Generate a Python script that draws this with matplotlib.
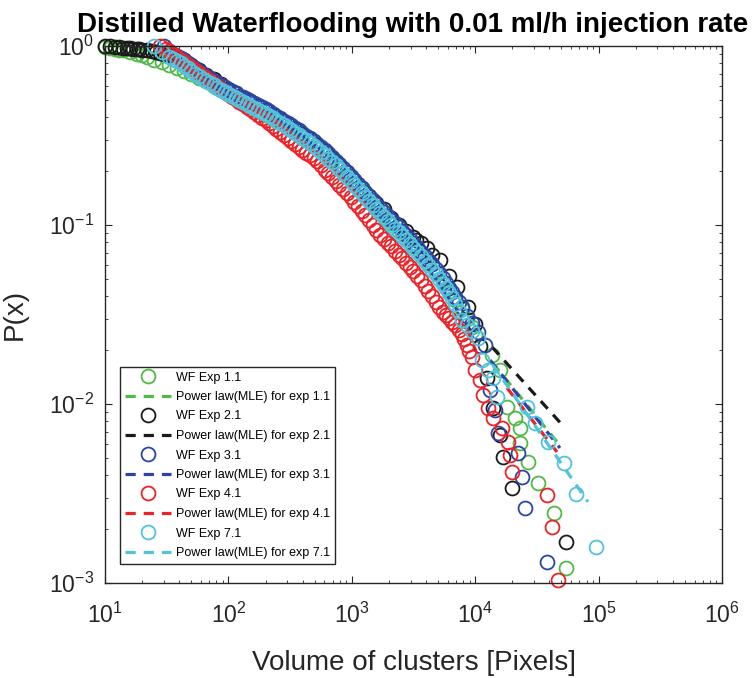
import numpy as np
import matplotlib
matplotlib.use('Agg')
import matplotlib.pyplot as plt

plt.rcParams['font.family'] = ['Liberation Sans', 'DejaVu Sans']
plt.rcParams['mathtext.default'] = 'regular'

# WF Exp 1.1 (green)
green_x = [10, 11, 12, 13, 14, 16, 18, 20, 22, 25, 29, 33, 38, 44, 50, 58, 66, 76, 87, 100,
           115, 132, 151, 174, 200, 229, 263, 302, 347, 398, 457, 525, 603, 692, 794, 912,
           1047, 1202, 1380, 1585, 1820, 2089, 2399, 2754, 3162, 3631, 4169, 4786, 5495, 6166,
           6918, 7762, 8511, 9333, 9960, 13700, 15900, 18100, 21000, 23100, 23100, 26800, 32300,
           43500, 54500]
green_y = [0.985, 0.975, 0.965, 0.955, 0.945, 0.925, 0.905, 0.885, 0.865, 0.84, 0.81, 0.78, 0.755,
           0.725, 0.695, 0.665, 0.635, 0.6, 0.57, 0.54, 0.51, 0.485, 0.46, 0.435, 0.41, 0.39, 0.37,
           0.35, 0.33, 0.31, 0.29, 0.27, 0.25, 0.23, 0.21, 0.19, 0.172, 0.155, 0.14, 0.126, 0.113,
           0.102, 0.093, 0.084, 0.076, 0.068, 0.061, 0.054, 0.048, 0.043, 0.038, 0.034, 0.03, 0.027,
           0.0243, 0.0188, 0.0155, 0.0096, 0.00835, 0.00734, 0.00605, 0.00474, 0.00362, 0.00246,
           0.00121]

# WF Exp 2.1 (black)
black_x = [10, 11, 12, 13, 14, 15, 16, 17, 18, 19, 20, 22, 24, 26, 28, 30, 33, 36, 40, 44,
           50, 58, 66, 76, 87, 100, 115, 132, 151, 174, 200, 229, 263, 302, 347, 398, 457, 525,
           603, 692, 794, 912, 1047, 1202, 1380, 1585, 1820, 2089, 2399, 2754, 3130, 3300, 3630,
           4070, 4500, 5180, 6100, 7130, 8750, 10000, 11000, 12500, 14000, 15900, 16800, 19900,
           54500]
black_y = [1.0, 0.995, 0.99, 0.985, 0.98, 0.976, 0.972, 0.968, 0.964, 0.96, 0.955, 0.946, 0.937,
           0.928, 0.918, 0.908, 0.893, 0.878, 0.86, 0.83, 0.78, 0.73, 0.69, 0.65, 0.61, 0.575,
           0.545, 0.515, 0.49, 0.465, 0.44, 0.415, 0.392, 0.368, 0.346, 0.324, 0.302, 0.281, 0.26,
           0.238, 0.217, 0.197, 0.178, 0.16, 0.145, 0.133, 0.123, 0.11, 0.1, 0.092, 0.0857, 0.082,
           0.0793, 0.074, 0.068, 0.0637, 0.052, 0.045, 0.0348, 0.028, 0.021, 0.014, 0.0095,
           0.00671, 0.00506, 0.0034, 0.00169]

# WF Exp 3.1 (blue)
blue_x = [30, 33, 38, 44, 50, 58, 66, 76, 87, 100, 115, 132, 151, 174, 200, 229, 263, 302, 347,
          398, 457, 525, 603, 692, 794, 912, 1047, 1202, 1380, 1585, 1820, 2089, 2399, 2754, 3162,
          3631, 4169, 4786, 5495, 6166, 6918, 7762, 8511, 9333, 10500, 12000, 13200, 14500,
          15300, 22200, 23900, 25300, 38200,
          # in-between readings along the dense band
          35.5, 41, 47, 54, 62, 71, 81, 93, 107, 123, 141, 162, 186, 214, 245, 282, 324, 372,
          427, 490, 562, 646, 741, 851, 977, 1122, 1288, 1479, 1698, 1950, 2239, 2570, 2951,
          3388, 3890, 4467, 5129, 5820, 6530, 7330]
blue_y = [1.0, 0.933, 0.881, 0.832, 0.776, 0.724, 0.681, 0.641, 0.605, 0.571, 0.543, 0.516, 0.491,
          0.467, 0.443, 0.419, 0.395, 0.372, 0.349, 0.327, 0.305, 0.284, 0.262, 0.24, 0.219,
          0.199, 0.179, 0.161, 0.145, 0.131, 0.118, 0.107, 0.097, 0.0875, 0.0789, 0.0711, 0.0637,
          0.0569, 0.0504, 0.0447, 0.0398, 0.0347, 0.0309, 0.0282, 0.0251, 0.0214, 0.012, 0.0093,
          0.00689, 0.00532, 0.00391, 0.00262, 0.00131,
          0.906, 0.856, 0.803, 0.75, 0.702, 0.661, 0.623, 0.588, 0.557, 0.529, 0.503, 0.479,
          0.455, 0.431, 0.407, 0.383, 0.36, 0.338, 0.316, 0.294, 0.273, 0.251, 0.229, 0.209,
          0.189, 0.17, 0.153, 0.138, 0.124, 0.112, 0.102, 0.092, 0.083, 0.075, 0.0674, 0.0603,
          0.0536, 0.0475, 0.0422, 0.0372]

# WF Exp 4.1 (red)
red_x = [28, 33, 38, 44, 50, 58, 66, 76, 87, 100, 115, 132, 151, 174, 200, 229, 263, 302, 347,
         398, 457, 525, 603, 692, 794, 912, 1047, 1202, 1380, 1585, 1820, 2089, 2399, 2754, 3162,
         3631, 4169, 4786, 5495, 6166, 6918, 7762, 8511, 9333, 10000, 10900, 11600, 12700, 13900,
         16500, 18400, 19100, 19900, 38200, 41900, 46900,
         31, 35.5, 41, 47, 54, 62, 71, 81, 93, 107, 123, 141, 162, 186, 214, 245, 282, 324, 372,
         427, 490, 562, 646, 741, 851, 977, 1122, 1288, 1479, 1698, 1950, 2239, 2570, 2951,
         3388, 3890, 4467, 5129, 5820, 6530, 7330, 8130, 8910]
red_y = [1.0, 0.933, 0.871, 0.813, 0.759, 0.708, 0.661, 0.617, 0.575, 0.537, 0.505, 0.473, 0.442,
         0.412, 0.385, 0.359, 0.331, 0.308, 0.285, 0.264, 0.245, 0.228, 0.204, 0.186, 0.168, 0.151,
         0.135, 0.120, 0.107, 0.0933, 0.0832, 0.0759, 0.0684, 0.0617, 0.055, 0.049, 0.0427,
         0.0372, 0.0327, 0.0302, 0.0275, 0.0245, 0.0214, 0.0182, 0.0155, 0.0136, 0.0112, 0.0095,
         0.00835, 0.00734, 0.00613, 0.00519, 0.00417, 0.0031, 0.00206, 0.00104,
         0.96, 0.90, 0.84, 0.785, 0.733, 0.684, 0.638, 0.596, 0.556, 0.521, 0.489, 0.457, 0.427,
         0.398, 0.372, 0.345, 0.319, 0.296, 0.274, 0.254, 0.236, 0.216, 0.195, 0.177, 0.159,
         0.143, 0.127, 0.113, 0.1, 0.088, 0.0795, 0.072, 0.065, 0.058, 0.052, 0.0458, 0.0399,
         0.0349, 0.0314, 0.0288, 0.026, 0.023, 0.0198]

# WF Exp 7.1 (cyan)
cyan_x = [25, 29, 33, 38, 44, 50, 58, 66, 76, 87, 100, 115, 132, 151, 174, 200, 229, 263, 302,
          347, 398, 457, 525, 603, 692, 794, 912, 1047, 1202, 1380, 1585, 1820, 2089, 2399, 2754,
          3162, 3631, 4169, 4786, 5495, 6166, 6918, 7762, 8511, 9333, 10500, 11350, 12700, 13900,
          15000, 26300, 30500, 38900, 52500, 65600, 95300,
          35.5, 41, 47, 54, 62, 71, 81, 93, 107, 123, 141, 162, 186, 214, 245, 282, 324, 372,
          427, 490, 562, 646, 741, 851, 977, 1122, 1288, 1479, 1698, 1950, 2239, 2570, 2951,
          3388, 3890, 4467, 5129, 5820, 6530, 7330]
cyan_y = [1.0, 0.925, 0.871, 0.822, 0.776, 0.724, 0.679, 0.638, 0.603, 0.569, 0.537, 0.511, 0.486,
          0.462, 0.44, 0.417, 0.394, 0.372, 0.349, 0.327, 0.307, 0.287, 0.266, 0.245, 0.225, 0.205,
          0.186, 0.168, 0.151, 0.136, 0.123, 0.111, 0.1, 0.0912, 0.0822, 0.0741, 0.0668, 0.0596,
          0.0531, 0.0468, 0.0417, 0.0363, 0.0295, 0.0275, 0.0257, 0.0234, 0.0176, 0.0155, 0.01397,
          0.01094, 0.0096, 0.00783, 0.00613, 0.00468, 0.00314, 0.00159,
          0.846, 0.799, 0.75, 0.70, 0.658, 0.62, 0.586, 0.553, 0.524, 0.498, 0.474, 0.451, 0.428,
          0.405, 0.383, 0.36, 0.338, 0.317, 0.297, 0.276, 0.255, 0.235, 0.215, 0.195, 0.177,
          0.159, 0.143, 0.129, 0.117, 0.105, 0.0955, 0.0866, 0.078, 0.0704, 0.0631, 0.0563, 0.05,
          0.0443, 0.039, 0.033]

# power law (MLE) fits, end points
fit_green = ([13900, 50500], [0.0169, 0.00568])
fit_black = ([13700, 53500], [0.0208, 0.00734])
fit_blue = ([13200, 48600], [0.0176, 0.00568])
fit_red = ([18100, 46000], [0.0123, 0.0054])
fit_cyan = ([13900, 82000], [0.0165, 0.00284])

series = [
    ('1.1', green_x, green_y, fit_green, '#52b947'),
    ('2.1', black_x, black_y, fit_black, '#1a1a1a'),
    ('3.1', blue_x, blue_y, fit_blue, '#2b45a6'),
    ('4.1', red_x, red_y, fit_red, '#ec2227'),
    ('7.1', cyan_x, cyan_y, fit_cyan, '#4fc4dc'),
]

fig = plt.figure(figsize=(7.55, 6.78), dpi=100)
ax = fig.add_axes([105 / 755, 1 - 583 / 678, 617 / 755, 537 / 678])

for name, x, y, fit, color in series:
    ax.plot(x, y, 'o', mfc='none', mec=color, ms=10, mew=1.3, clip_on=False,
            label='WF Exp ' + name)
    ax.plot(fit[0], fit[1], '--', color=color, lw=2.3, dashes=(3.2, 2.5),
            label='Power law(MLE) for exp ' + name)

ax.set_xscale('log')
ax.set_yscale('log')
ax.set_xlim(10, 1e6)
ax.set_ylim(1e-3, 1)
ax.tick_params(which='both', direction='in', top=True, right=True, color='#262626',
               labelcolor='#262626')
ax.tick_params(which='major', length=5, labelsize=16.5)
ax.tick_params(which='minor', length=2.5)
ax.tick_params(axis='x', pad=14)
ax.tick_params(axis='y', pad=8)
for s in ax.spines.values():
    s.set_color('#262626')
    s.set_linewidth(1)

ax.set_xlabel('Volume of clusters [Pixels]', fontsize=20, color='#262626')
ax.set_ylabel('P(x)', fontsize=20, color='#262626')
ax.xaxis.set_label_coords(0.5, -0.125)
ax.yaxis.set_label_coords(-0.125, 0.5)

fig.text(413 / 755, 1 - 32 / 678, 'Distilled Waterflooding with 0.01 ml/h injection rate',
         ha='center', va='baseline', fontsize=20, fontweight='bold')

leg = ax.legend(loc='lower left', bbox_to_anchor=(120 / 755, 1 - 564 / 678),
                bbox_transform=fig.transFigure, borderaxespad=0, fontsize=9,
                numpoints=1, handlelength=3.7, handletextpad=0.4, labelspacing=0.6,
                borderpad=0.4, fancybox=False, framealpha=1, edgecolor='#262626')
leg.get_frame().set_linewidth(1)

fig.savefig('out.png', dpi=100)
